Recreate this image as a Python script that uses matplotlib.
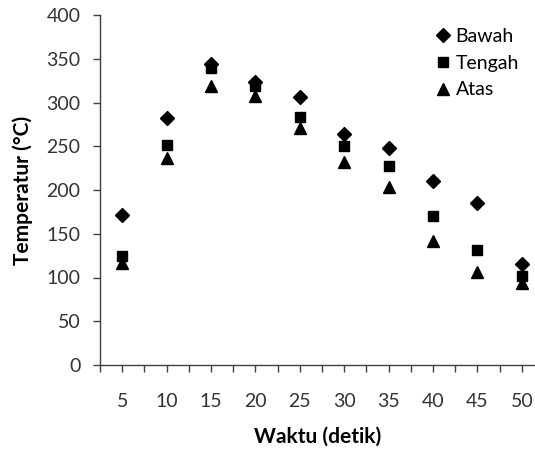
import matplotlib.pyplot as plt
import numpy as np

waktu = [5, 10, 15, 20, 25, 30, 35, 40, 45, 50]
bawah = [172, 282, 344, 323, 306, 264, 248, 210, 185, 115]
tengah = [125, 251, 340, 319, 283, 250, 227, 170, 132, 102]
atas = [117, 237, 319, 307, 271, 232, 204, 142, 106, 94]

plt.rcParams['font.family'] = ['Lato', 'DejaVu Sans']

fig = plt.figure(figsize=(5.35, 4.5), dpi=100)
ax = fig.add_axes([100 / 535, 85 / 450, 435 / 535, 350 / 450])

ax.plot(waktu, bawah, 'D', color='black', ms=7, label='Bawah', clip_on=False)
ax.plot(waktu, tengah, 's', color='black', ms=7, label='Tengah', clip_on=False)
ax.plot(waktu, atas, '^', color='black', ms=8, label='Atas', clip_on=False)

ax.set_xlim(2.5, 2.5 + 435 / 8.88)
ax.set_ylim(0, 400)
ax.set_xticks(waktu)
ax.set_xticks(np.arange(2.5, 52, 2.5), minor=True)
ax.set_yticks(range(0, 401, 50))
ax.tick_params(axis='x', which='both', direction='out', length=5, width=1, pad=15, labelsize=14, colors='#404040')
ax.tick_params(axis='y', direction='out', length=5, width=1, pad=9, labelsize=14, colors='#404040')
ax.tick_params(axis='both', labelcolor='#333333')

for s in ['top', 'right']:
    ax.spines[s].set_visible(False)
for s in ['left', 'bottom']:
    ax.spines[s].set_color('#404040')
    ax.spines[s].set_linewidth(1)

ax.set_xlabel('Waktu (detik)', fontsize=15, fontweight='bold', labelpad=12)
ax.set_ylabel('Temperatur (°C)', fontsize=15, fontweight='bold', labelpad=10)

ax.legend(loc='upper left', bbox_to_anchor=(0.768, 0.963), frameon=False, fontsize=14,
          handletextpad=0.2, handlelength=0.9, labelspacing=0.5, borderaxespad=0, borderpad=0)

fig.savefig('out.png', dpi=100)
